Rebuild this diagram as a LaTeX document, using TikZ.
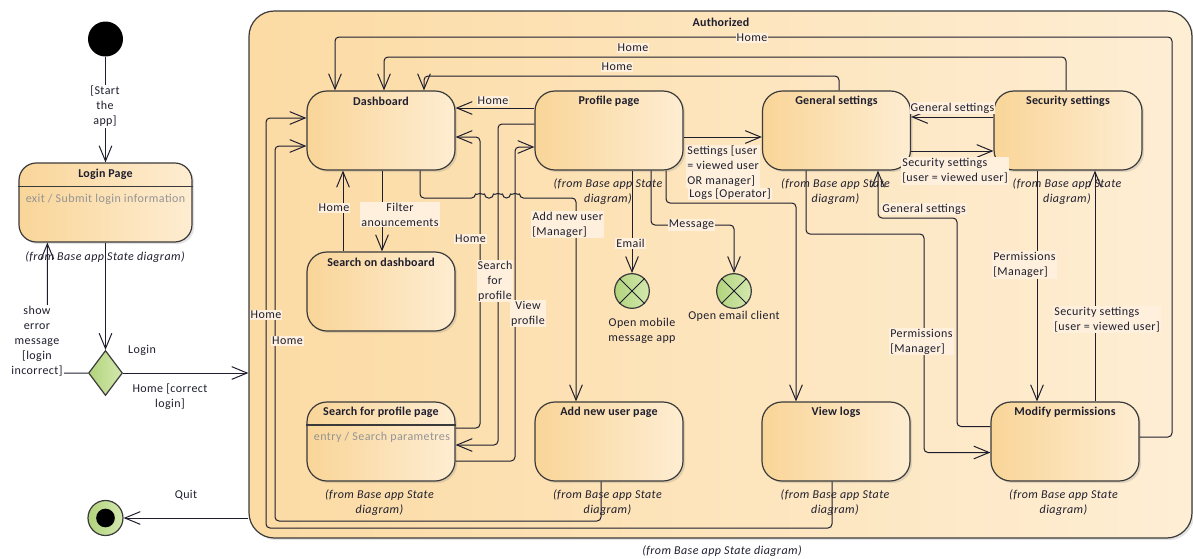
\documentclass[tikz,border=0pt]{standalone}
\usepackage{fontspec}
\setmainfont{Carlito}[LetterSpace=3.5, BoldFeatures={LetterSpace=1.5}]
\usetikzlibrary{arrows.meta,shapes.geometric,shadows,calc}

\definecolor{authL}{RGB}{252,219,164}
\definecolor{authR}{RGB}{254,238,212}
\definecolor{stateL}{RGB}{249,213,152}
\definecolor{stateR}{RGB}{254,237,210}
\definecolor{tagbg}{RGB}{254,240,221}
\definecolor{greenL}{RGB}{178,212,124}
\definecolor{greenR}{RGB}{212,232,175}
\definecolor{outline}{RGB}{58,58,58}
\definecolor{ink}{RGB}{30,30,46}
\definecolor{muted}{RGB}{148,148,148}

\newcommand{\diagfont}{\fontsize{9}{11.3}\selectfont}

\tikzset{
  txt/.style={font=\diagfont, text=ink, inner sep=0.8pt},
  statebox/.style={draw=outline, line width=0.9pt, rounded corners=15pt,
    minimum width=111pt, minimum height=59.25pt, inner sep=0pt,
    left color=stateL, right color=stateR,
    drop shadow={shadow xshift=1.6pt, shadow yshift=-1.6pt, opacity=0.22}},
  composite/.style={draw=outline, line width=0.9pt, rounded corners=19pt,
    minimum width=707.25pt, minimum height=395.25pt, inner sep=0pt,
    left color=authL, right color=authR,
    drop shadow={shadow xshift=1.6pt, shadow yshift=-1.6pt, opacity=0.22}},
  heading/.style={txt, font=\diagfont\bfseries},
  fromnote/.style={txt, font=\diagfont\itshape, align=center},
  activity/.style={txt, text=muted},
  tag/.style={txt, fill=tagbg, align=center},
  tagw/.style={txt, fill=white, align=center},
  tagleft/.style={tag, align=left, anchor=west},
  freetext/.style={txt, align=center},
  flow/.style={draw=ink, line width=0.75pt, rounded corners=3pt,
    -{Straight Barb[length=11.5pt,width=9.5pt]}},
  wire/.style={draw=ink, line width=0.75pt},
  greenfill/.style={left color=greenL, right color=greenR, draw=outline, line width=0.9pt},
  startdot/.style={circle, fill=black, minimum size=26.25pt, inner sep=0pt},
  finalring/.style={circle, greenfill, minimum size=26.25pt, inner sep=0pt},
  finaldot/.style={circle, fill=black, minimum size=14pt, inner sep=0pt},
  exitpt/.style={circle, greenfill, minimum size=26pt, inner sep=0pt},
  choice/.style={diamond, greenfill, minimum width=25.5pt, minimum height=33.75pt, inner sep=0pt},
}

\begin{document}
\begin{tikzpicture}[x=0.75pt,y=-0.75pt]
\useasboundingbox (0,0) rectangle (1193,558);

% ---------- composite state ----------
\node[composite] (auth) at (720.5,274.5) {};
\node[heading] (authT) at (721,22) {Authorized};
\node[fromnote] (authN) at (722,551) {(from Base app State diagram)};

% ---------- states ----------
\node[statebox, minimum width=129.75pt, rounded corners=13pt] (login) at (105.5,202.5) {};
\node[statebox] (dash)  at (381,130.5) {};
\node[statebox] (sdash) at (381,291.5) {};
\node[statebox] (sprof) at (381,441.5) {};
\node[statebox] (prof)  at (609,130.5) {};
\node[statebox] (gen)   at (836.5,130.5) {};
\node[statebox] (sec)   at (1068,130.5) {};
\node[statebox] (addu)  at (609,441.5) {};
\node[statebox] (logs)  at (836,441.5) {};
\node[statebox] (modp)  at (1065,441.5) {};

\node[heading] (loginT) at (105.5,174) {Login Page};
\node[heading] (dashT)  at (381,101) {Dashboard};
\node[heading] (sdashT) at (381,262) {Search on dashboard};
\node[heading] (sprofT) at (381,412) {Search for profile page};
\node[heading] (profT)  at (609,101) {Profile page};
\node[heading] (genT)   at (836.5,101) {General settings};
\node[heading] (secT)   at (1068,101) {Security settings};
\node[heading] (adduT)  at (609,412) {Add new user page};
\node[heading] (logsT)  at (836,412) {View logs};
\node[heading] (modpT)  at (1065,412) {Modify permissions};

% internal activity compartments
\draw[draw=outline, line width=0.9pt] ($(login.north west)+(0,24)$) -- ($(login.north east)+(0,24)$);
\node[activity] (loginA) at (105.5,199) {exit / Submit login information};
\draw[draw=outline, line width=0.9pt] ($(sprof.north west)+(0,23.5)$) -- ($(sprof.north east)+(0,23.5)$);
\node[activity] (sprofA) at (382,437) {entry / Search parametres};

% origin notes
\node[fromnote] (loginN) at (105,257) {(from Base app State diagram)};
\node[fromnote] (sprofN) at (379.5,502.5) {(from Base app State\\diagram)};
\node[fromnote] (profN)  at (608,191.5) {(from Base app State\\diagram)};
\node[fromnote] (genN)   at (835.5,191.5) {(from Base app State\\diagram)};
\node[fromnote] (secN)   at (1067,191.5) {(from Base app State\\diagram)};
\node[fromnote] (adduN)  at (607.5,502.5) {(from Base app State\\diagram)};
\node[fromnote] (logsN)  at (835,502.5) {(from Base app State\\diagram)};
\node[fromnote] (modpN)  at (1063.5,502.5) {(from Base app State\\diagram)};

% ---------- pseudo-states ----------
\node[startdot] (start) at (105.5,39) {};
\node[choice] (dec) at (105.5,373) {};
\node[finalring] (fin) at (105.5,518) {};
\node[finaldot] (finD) at (105.5,518) {};
\node[exitpt] (mob) at (632,291) {};
\node[exitpt] (eml) at (734,291) {};
\draw[wire] (mob.45) -- (mob.225) (mob.135) -- (mob.315);
\draw[wire] (eml.45) -- (eml.225) (eml.135) -- (eml.315);
\node[freetext] (mobL) at (642,330.5) {Open mobile\\message app};
\node[freetext] (emlL) at (734,316) {Open email client};

% ---------- transitions outside the composite ----------
\draw[flow] (start) -- (login);
\node[tagw] (startL) at (105,106.5) {{[Start}\\the\\app{]}};
\draw[flow] (login) -- (dec);
\draw[flow] (dec.west) -| ($(login.south west)+(29,0)$);
\node[tagw] (errL) at (37,341.5) {show\\error\\message\\{}[login\\incorrect]};
\draw[flow] (dec.east) -- (dec.east -| auth.west);
\node[freetext] (loginL) at (142,350) {Login};
\node[freetext] (okL) at (170,397) {Home [correct\\login]};
\draw[flow] (auth.west |- fin) -- (fin);
\node[freetext] (quitL) at (186,495) {Quit};

% ---------- transitions inside the composite ----------
% Home, back to the dashboard from the top
\draw[flow] ($(modp.east)+(0,-4.5)$) -| (1172,37) -| ($(dash.north)+(-46,0)$);
\draw[flow] ($(sec.north)+(-2,0)$) |- (384,57) -- ($(dash.north)+(3,0)$);
\draw[flow] ($(gen.north)+(2.5,0)$) |- (424,76) -- ($(dash.north)+(43,0)$);
\draw[flow] ($(prof.west)+(0,-22.5)$) -- ($(dash.east)+(0,-22.5)$);

% dashboard and search
\draw[flow] ($(dash.south)+(1,0)$) -- ($(sdash.north)+(1,0)$);
\draw[flow] ($(sdash.north)+(-38,0)$) -- ($(dash.south)+(-38,0)$);
\draw[flow] ($(sprof.east)+(0,-13.5)$) -| (480,137) -- ($(dash.east)+(0,6.5)$);
\draw[flow] ($(prof.west)+(0,-6.5)$) -| (498,445) -- ($(sprof.east)+(0,3.5)$);
\draw[flow] ($(sprof.east)+(0,19.5)$) -| (515,147) -- ($(prof.west)+(0,16.5)$);

% add new user, hopping over the three vertical lines
\draw[flow] ($(dash.south)+(39,0)$) |- (475.5,198)
  arc[start angle=180,end angle=360,radius=4.5] -- (493.5,198)
  arc[start angle=180,end angle=360,radius=4.5] -- (510.5,198)
  arc[start angle=180,end angle=360,radius=4.5] -| ($(addu.north)+(-33,0)$);

% profile page outgoing
\draw[flow] ($(prof.south)+(23,0)$) -- (mob);
\draw[flow] ($(prof.south)+(42,0)$) |- (734,225) -- (eml);
\draw[flow] ($(prof.south)+(57,0)$) |- (796,203) -- ($(logs.north)+(-40,0)$);
\draw[flow] ($(prof.east)+(0,6.5)$) -- ($(gen.west)+(0,6.5)$);

% settings
\draw[flow] ($(sec.west)+(0,-13.5)$) -- ($(gen.east)+(0,-13.5)$);
\draw[flow] ($(gen.east)+(0,20.5)$) -- ($(sec.west)+(0,20.5)$);
\draw[flow] ($(modp.west)+(0,-15)$) -| (957,218) -| ($(gen.south)+(41.5,0)$);
\draw[flow] ($(gen.south)+(-30.5,0)$) |- (924,234) |- ($(modp.west)+(0,11)$);
\draw[flow] ($(sec.south)+(-31,0)$) -- ($(modp.north)+(-28,0)$);
\draw[flow] ($(modp.north)+(30,0)$) -- ($(sec.south)+(27,0)$);

% Home, back to the dashboard from below
\draw[flow] ($(logs.south)+(-4,0)$) |- (266,528) |- ($(dash.west)+(0,-12.5)$);
\draw[flow] ($(addu.south)+(-8,0)$) |- (275,521) |- ($(dash.west)+(0,15.5)$);

% ---------- transition labels ----------
\node[tag] (h1) at (752,38) {Home};
\node[tag] (h2) at (633,48) {Home};
\node[tag] (h3) at (617,67) {Home};
\node[tag] (h4) at (493,101) {Home};
\node[tag] (filtL) at (400,214.5) {Filter\\anouncements};
\node[tag] (h5) at (334,208) {Home};
\node[tag] (h6) at (470.5,239) {Home};
\node[tag] (srchL) at (495,281) {Search\\for\\profile};
\node[tag] (viewL) at (528,313.5) {View\\profile};
\node[tagleft] (addL) at (531,224.5) {Add new user\\{}[Manager]};
\node[tag] (emailL) at (630.5,243.5) {Email};
\node[tag] (msgL) at (691.5,225) {Message};
\node[tag] (logsL) at (730,194) {Logs [Operator]};
\node[tagleft] (setL) at (686,166) {Settings [user\\= viewed user\\OR manager]};
\node[tag] (gsL1) at (952.5,108) {General settings};
\node[tagleft] (ssL1) at (901,171) {Security settings\\{}[user = viewed user]};
\node[tagleft] (gsL2) at (881,209) {General settings};
\node[tagleft] (permL1) at (889,341.5) {Permissions\\{}[Manager]};
\node[tagleft] (permL2) at (992,265) {Permissions\\{}[Manager]};
\node[tagleft] (ssL2) at (1053,319.5) {Security settings\\{}[user = viewed user]};
\node[tag] (h7) at (266,315) {Home};
\node[tag] (h8) at (287.5,341) {Home};

\end{tikzpicture}
\end{document}
